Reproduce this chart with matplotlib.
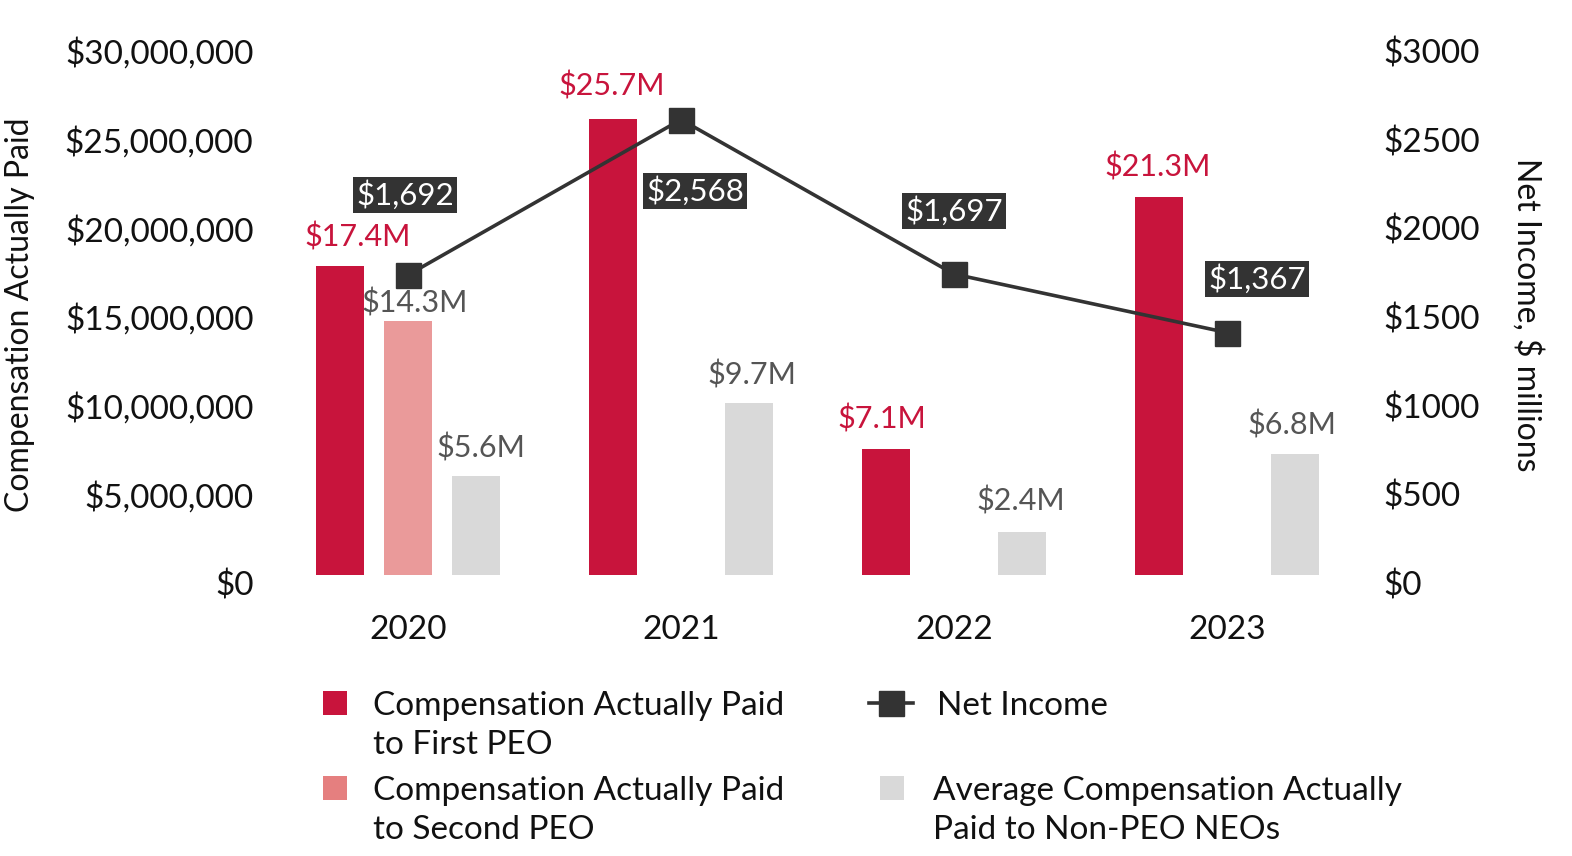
import numpy as np
import matplotlib
matplotlib.use("Agg")
import matplotlib.pyplot as plt
import matplotlib.transforms as mtrans
from matplotlib.patches import Rectangle
from matplotlib.lines import Line2D

plt.rcParams['font.family'] = ['Lato', 'DejaVu Sans']

# ----------------------------------------------------------------------
# data
# ----------------------------------------------------------------------
years = ['2020', '2021', '2022', '2023']
cap_first_peo = [17.4e6, 25.7e6, 7.1e6, 21.3e6]
cap_second_peo = [14.3e6, 0, 0, 0]
cap_avg_neo = [5.6e6, 9.7e6, 2.4e6, 6.8e6]
net_income = [1692, 2568, 1697, 1367]

first_labels = ['$17.4M', '$25.7M', '$7.1M', '$21.3M']
second_labels = ['$14.3M', '', '', '']
avg_labels = ['$5.6M', '$9.7M', '$2.4M', '$6.8M']
ni_labels = ['$1,692', '$2,568', '$1,697', '$1,367']

left_ticks = np.arange(0, 30e6 + 1, 5e6)
right_ticks = np.arange(0, 3001, 500)

RED = '#C8143C'
PINK = '#EA9A9A'
PINK_LEG = '#E57F7F'
GRAY = '#D9D9D9'
DARK = '#333333'
RED_TXT = '#C8143C'
GRAY_TXT = '#555555'
TXT = '#111111'

W, H = 1572, 856


def fx(px):
    return px / W


def fy(py):
    return 1 - py / H


fig = plt.figure(figsize=(W / 100, H / 100), dpi=100)
ax = fig.add_axes([fx(271.5), fy(575), 1092 / W, 532 / H])
ax2 = ax.twinx()

x = np.arange(len(years))
bw = 0.176
off = 0.249

b1 = ax.bar(x - off, cap_first_peo, bw, color=RED, zorder=2)
b2 = ax.bar(x, cap_second_peo, bw, color=PINK, zorder=2)
b3 = ax.bar(x + off, cap_avg_neo, bw, color=GRAY, zorder=2)

ax.set_xlim(-0.5, 3.5)
ax.set_ylim(0, 30e6)
ax2.set_ylim(0, 3000)

ax.set_yticks(left_ticks)
ax.set_yticklabels(['${:,.0f}'.format(v) for v in left_ticks])
ax2.set_yticks(right_ticks)
ax2.set_yticklabels(['${:.0f}'.format(v) for v in right_ticks])
ax.set_xticks(x)
ax.set_xticklabels(years)

for a in (ax, ax2):
    for s in a.spines.values():
        s.set_visible(False)
    a.tick_params(length=0, labelsize=24, colors=TXT)
ax.tick_params(axis='y', pad=13)
ax2.tick_params(axis='y', pad=14)
ax.tick_params(axis='x', pad=29)

# tick labels sit a little below their ticks in the original
shift = mtrans.ScaledTranslation(0, -8 / 100, fig.dpi_scale_trans)
for lbl in ax.get_yticklabels() + ax2.get_yticklabels():
    lbl.set_transform(lbl.get_transform() + shift)


# bar value labels
def put_labels(bars, labels, color, dys, dxs):
    for rect, lab, dy, dx in zip(bars, labels, dys, dxs):
        if not lab:
            continue
        ax.annotate(lab, (rect.get_x() + rect.get_width() / 2, rect.get_height()),
                    xytext=(dx, dy), textcoords='offset pixels',
                    ha='center', va='center', fontsize=22, color=color)


put_labels(b1, first_labels, RED_TXT, [29, 33, 30, 30], [18, -1, -4, -1])
put_labels(b2, second_labels, GRAY_TXT, [18, 0, 0, 0], [7, 0, 0, 0])
put_labels(b3, avg_labels, GRAY_TXT, [28, 28, 31, 29], [5, 3, -1, -3])

# net income line
ax2.plot(x, net_income, color=DARK, lw=2.6, marker='s', ms=18,
         markerfacecolor=DARK, markeredgecolor=DARK, zorder=3)
ax2.set_zorder(ax.get_zorder() + 1)
ax2.patch.set_visible(False)

ni_dx = [-3, 14, 0, 30]
ni_dy = [80, -71, 63, 54]
for xi, v, lab, dx, dy in zip(x, net_income, ni_labels, ni_dx, ni_dy):
    ax2.annotate(lab, (xi, v), xytext=(dx, dy), textcoords='offset pixels',
                 ha='center', va='center', fontsize=22.5, color='white',
                 bbox=dict(boxstyle='square,pad=0.1', fc=DARK, ec='none'))

# axis titles
fig.text(fx(20), fy(315), 'Compensation Actually Paid', rotation=90,
         ha='center', va='center', fontsize=23, color=TXT)
fig.text(fx(1527), fy(315), 'Net Income, $ millions', rotation=-90,
         ha='center', va='center', fontsize=23, color=TXT)

# legend drawn by hand so handles line up with the first text line
sq = 24


def leg_square(cx, cy, color):
    fig.add_artist(Rectangle((fx(cx - sq / 2), fy(cy + sq / 2)), sq / W, sq / H,
                             transform=fig.transFigure, fc=color, ec='none'))


def leg_text(px, py, lines):
    for i, t in enumerate(lines):
        fig.text(fx(px), fy(py + 3 + 39 * i), t, ha='left', va='center',
                 fontsize=24, color=TXT)


leg_square(335, 703, RED)
leg_text(373, 703, ['Compensation Actually Paid', 'to First PEO'])
leg_square(335, 788, PINK_LEG)
leg_text(373, 788, ['Compensation Actually Paid', 'to Second PEO'])
fig.add_artist(Line2D([fx(869), fx(891), fx(913)], [fy(703)] * 3,
                      transform=fig.transFigure, color=DARK, lw=2.6,
                      marker='s', ms=18, markevery=[1], mfc=DARK, mec=DARK))
leg_text(937, 703, ['Net Income'])
leg_square(892, 788, GRAY)
leg_text(933, 788, ['Average Compensation Actually', 'Paid to Non-PEO NEOs'])

fig.savefig('out.png', dpi=100)
